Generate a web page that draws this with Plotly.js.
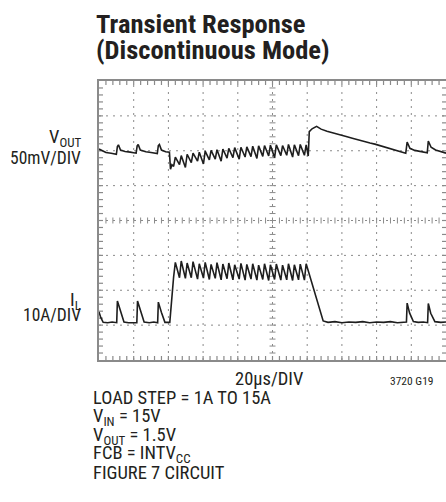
<!DOCTYPE html>
<html>
<head>
<meta charset="utf-8">
<script src="https://cdn.plot.ly/plotly-3.0.1.min.js"></script>
<style>html,body{margin:0;padding:0;background:#fff;}#chart{width:446px;height:502px;}</style>
</head>
<body>
<div id="chart"></div>
<script>
// ---- data (x in divisions of 20us, y in screen divisions) ----
var vout_pre_x = [0, 0.08, 0.2, 0.35, 0.5, 0.53, 0.56, 0.62, 0.75, 0.9, 1.07, 1.1, 1.13, 1.19, 1.35, 1.5, 1.68, 1.71, 1.74, 1.8, 1.92, 2.03, 2.06, 2.10];
var vout_pre_y = [6.05, 6.0, 5.95, 5.93, 5.9, 6.12, 6.17, 6.02, 5.98, 5.96, 5.93, 6.14, 6.18, 6.02, 5.97, 5.95, 5.92, 6.15, 6.18, 6.02, 5.97, 5.96, 5.47, 5.60];
var ripple_x = [2.15,2.20, 2.32,2.37, 2.49,2.54, 2.66,2.71, 2.84,2.89, 3.01,3.06, 3.18,3.23, 3.35,3.40, 3.52,3.57, 3.69,3.74, 3.86,3.91, 4.04,4.09, 4.21,4.26, 4.38,4.43, 4.55,4.60, 4.72,4.77, 4.89,4.94, 5.06,5.11, 5.24,5.29, 5.41,5.46, 5.58,5.63, 5.75,5.80, 5.92,5.97];
var vout_ripple_y = [5.55,5.82, 5.60,5.86, 5.52,5.90, 5.66,5.93, 5.70,5.96, 5.62,5.99, 5.74,6.01, 5.76,6.03, 5.70,6.05, 5.79,6.07, 5.80,6.09, 5.76,6.10, 5.82,6.11, 5.83,6.13, 5.78,6.14, 5.84,6.15, 5.85,6.16, 5.80,6.17, 5.86,6.15, 5.87,6.18, 5.82,6.17, 5.86,6.18, 5.87,6.17];
var vout_post_x = [6.03, 6.06, 6.14, 6.27, 6.40, 6.57, 6.7, 6.8, 6.9, 7.0, 7.15, 7.3, 7.4, 7.6, 7.81, 7.95, 8.05, 8.2, 8.30, 8.45, 8.55, 8.7, 8.84, 8.88, 8.96, 9.1, 9.25, 9.46, 9.49, 9.57, 9.7, 9.85, 10];
var vout_post_y = [5.85, 6.55, 6.63, 6.70, 6.62, 6.56, 6.52, 6.50, 6.46, 6.44, 6.40, 6.36, 6.33, 6.27, 6.22, 6.19, 6.16, 6.12, 6.10, 6.05, 6.02, 5.98, 5.93, 6.25, 6.07, 6.01, 5.98, 5.94, 6.28, 6.10, 6.02, 5.97, 5.93];

var il_pre_x = [0, 0.05, 0.12, 0.25, 0.38, 0.51, 0.53, 0.62, 0.72, 0.85, 1.0, 1.09, 1.11, 1.2, 1.30, 1.45, 1.58, 1.69, 1.71, 1.8, 1.90, 2.04, 2.09, 2.12];
var il_pre_y = [1.38, 1.22, 1.08, 1.07, 1.09, 1.07, 1.69, 1.38, 1.09, 1.07, 1.08, 1.07, 1.69, 1.38, 1.09, 1.07, 1.09, 1.07, 1.66, 1.36, 1.08, 1.08, 1.75, 2.02];
var il_ripple_y = [2.38,2.80, 2.36,2.84, 2.34,2.78, 2.36,2.82, 2.32,2.76, 2.35,2.80, 2.31,2.74, 2.34,2.79, 2.30,2.75, 2.33,2.78, 2.30,2.73, 2.32,2.77, 2.29,2.74, 2.32,2.76, 2.29,2.72, 2.31,2.76, 2.28,2.73, 2.31,2.75, 2.29,2.72, 2.30,2.76, 2.28,2.73, 2.30,2.75, 2.29,2.76];
var il_post_x = [6.46, 6.6, 6.8, 7.0, 7.2, 7.4, 7.6, 7.8, 8.0, 8.2, 8.4, 8.6, 8.86, 8.88, 8.95, 9.06, 9.2, 9.35, 9.47, 9.49, 9.56, 9.68, 9.85, 10];
var il_post_y = [1.12, 1.08, 1.10, 1.07, 1.09, 1.08, 1.10, 1.07, 1.09, 1.08, 1.10, 1.07, 1.09, 1.63, 1.35, 1.10, 1.08, 1.09, 1.07, 1.62, 1.34, 1.10, 1.08, 1.09];

var vout_x = vout_pre_x.concat(ripple_x, vout_post_x);
var vout_y = vout_pre_y.concat(vout_ripple_y, vout_post_y);
var il_x = il_pre_x.concat(ripple_x, il_post_x);
var il_y = il_pre_y.concat(il_ripple_y, il_post_y);

// ---- layout helpers ----
var L = 99, R = 446, T = 81, B = 360;
function px(x){ return (x - L) / (R - L); }
function py(y){ return (B - y) / (B - T); }
var FONT = "'Liberation Sans Narrow', 'Arial Narrow', 'Roboto Condensed', 'DejaVu Sans Condensed', 'Liberation Sans', sans-serif";
var TXT = '#231f20';
var GRID = '#8a8a8a';
var BORDER = '#8a8a8a';

var traceStyle = {mode: 'lines', line: {color: '#1e1e1e', width: 1.6}, hoverinfo: 'skip', showlegend: false};
var data = [
  Object.assign({x: vout_x, y: vout_y}, traceStyle),
  Object.assign({x: il_x, y: il_y}, traceStyle)
];

// oscilloscope graticule: dotted division lines, tick marks on the centre lines and border
var shapes = [];
var DOT = '2px,5px';
for (var gx = 1; gx < 10; gx++) {
  shapes.push({type: 'line', xref: 'x', yref: 'y', x0: gx, x1: gx, y0: 0, y1: 8, line: {color: GRID, width: 1, dash: DOT}, layer: 'below'});
}
for (var gy = 1; gy < 8; gy++) {
  shapes.push({type: 'line', xref: 'x', yref: 'y', x0: 0, x1: 10, y0: gy, y1: gy, line: {color: GRID, width: 1, dash: DOT}, layer: 'below'});
}
for (var i = 1; i < 50; i++) {
  var xv = i * 0.2;
  shapes.push({type: 'line', xref: 'x', yref: 'y', ysizemode: 'pixel', yanchor: 4, x0: xv, x1: xv, y0: -3, y1: 3, line: {color: GRID, width: 1}, layer: 'below'});
  shapes.push({type: 'line', xref: 'x', yref: 'paper', ysizemode: 'pixel', yanchor: 0, x0: xv, x1: xv, y0: 0, y1: 4, line: {color: BORDER, width: 1.2}, layer: 'below'});
  shapes.push({type: 'line', xref: 'x', yref: 'paper', ysizemode: 'pixel', yanchor: 1, x0: xv, x1: xv, y0: 0, y1: -4, line: {color: BORDER, width: 1.2}, layer: 'below'});
}
for (var j = 1; j < 40; j++) {
  var yv = j * 0.2;
  shapes.push({type: 'line', xref: 'x', yref: 'y', xsizemode: 'pixel', xanchor: 5, y0: yv, y1: yv, x0: -3, x1: 3, line: {color: GRID, width: 1}, layer: 'below'});
  shapes.push({type: 'line', xref: 'paper', yref: 'y', xsizemode: 'pixel', xanchor: 0, y0: yv, y1: yv, x0: 0, x1: 4, line: {color: BORDER, width: 1.2}, layer: 'below'});
  shapes.push({type: 'line', xref: 'paper', yref: 'y', xsizemode: 'pixel', xanchor: 1, y0: yv, y1: yv, x0: 0, x1: -4, line: {color: BORDER, width: 1.2}, layer: 'below'});
}

function ann(text, x, y, opts) {
  return Object.assign({text: text, x: px(x), y: py(y), xref: 'paper', yref: 'paper', showarrow: false,
    xanchor: 'left', yanchor: 'middle', borderpad: 0, font: {family: FONT, size: 18.5, color: TXT}}, opts || {});
}

var annotations = [
  ann('<b>Transient Response</b>', 95, 23, {font: {family: FONT, size: 26.5, color: TXT}}),
  ann('<b>(Discontinuous Mode)</b>', 95, 50, {font: {family: FONT, size: 26.5, color: TXT}}),
  ann('V<sub>OUT</sub>', 82, 138, {xanchor: 'right'}),
  ann('50mV/DIV', 82, 158, {xanchor: 'right', font: {family: FONT, size: 17.5, color: TXT}}),
  ann('I<sub>L</sub>', 82, 301, {xanchor: 'right'}),
  ann('10A/DIV', 82, 315, {xanchor: 'right', font: {family: FONT, size: 17.5, color: TXT}}),
  ann('20µs/DIV', 269, 379, {xanchor: 'center'}),
  ann('3720 G19', 435, 381, {xanchor: 'right', font: {family: FONT, size: 11.5, color: TXT}}),
  ann('LOAD STEP = 1A TO 15A', 92, 398),
  ann('V<sub>IN</sub> = 15V', 92, 417),
  ann('V<sub>OUT</sub> = 1.5V', 92, 436),
  ann('FCB = INTV<sub>CC</sub>', 92, 454),
  ann('FIGURE 7 CIRCUIT', 92, 473)
];

var axisCommon = {
  showgrid: false, zeroline: false, showticklabels: false,
  showline: true, linecolor: BORDER, linewidth: 1.6, mirror: true,
  ticks: '', fixedrange: true
};

var layout = {
  width: 446, height: 502,
  margin: {l: L, r: 446 - R, t: T, b: 502 - B, pad: 0},
  paper_bgcolor: '#ffffff', plot_bgcolor: '#ffffff',
  xaxis: Object.assign({}, axisCommon, {range: [0, 10]}),
  yaxis: Object.assign({}, axisCommon, {range: [0, 8]}),
  shapes: shapes,
  annotations: annotations,
  showlegend: false
};

Plotly.newPlot('chart', data, layout, {staticPlot: true, displayModeBar: false});
</script>
</body>
</html>
